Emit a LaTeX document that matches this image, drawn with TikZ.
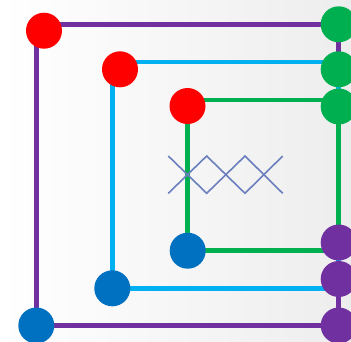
\documentclass[tikz,border=0pt]{standalone}
\usetikzlibrary{calc}
\definecolor{cpurple}{HTML}{7030A0}
\definecolor{ccyan}{HTML}{00B0F0}
\definecolor{cgreen}{HTML}{00B050}
\definecolor{cred}{HTML}{FF0000}
\definecolor{cblue}{HTML}{0070C0}
\definecolor{czig}{HTML}{6B7EBD}
\pgfdeclarelayer{back}
\pgfdeclarelayer{mid}
\pgfsetlayers{back,mid,main}
\begin{document}
\begin{tikzpicture}[x=1pt,y=-1pt,
  dot/.style={circle,minimum size=36pt,inner sep=0pt,fill=#1,draw=none},
  frameline/.style={line width=4.8pt,draw=#1,line join=miter}]
\useasboundingbox (0,0) rectangle (351,341);
\begin{pgfonlayer}{back}
\shade[left color=white,right color=black!7] (0,0) rectangle (351,341);
\end{pgfonlayer}
% circles
\node[dot=cred] (r1) at (44,30.7) {};
\node[dot=cred] (r2) at (120,69.3) {};
\node[dot=cred] (r3) at (187.5,106) {};
\node[dot=cgreen] (g1) at (338.7,24.3) {};
\node[dot=cgreen] (g2) at (338.7,69.3) {};
\node[dot=cgreen] (g3) at (338.7,106.5) {};
\node[dot=cpurple] (p3) at (338.7,242.5) {};
\node[dot=cpurple] (p2) at (338.7,279) {};
\node[dot=cpurple] (p1) at (338.7,325.5) {};
\node[dot=cblue] (b1) at (36.3,325.5) {};
\node[dot=cblue] (b2) at (112.3,288.3) {};
\node[dot=cblue] (b3) at (187.7,250.7) {};
\coordinate (d2) at (338.7,62);
\coordinate (d3) at (338.7,100);
% frames
\begin{pgfonlayer}{mid}
\draw[frameline=cpurple] (b1.center) rectangle (g1.center);
\draw[frameline=ccyan] (b2.center) rectangle (d2);
\draw[frameline=cgreen] (b3.center) rectangle (d3);
\end{pgfonlayer}
% zigzag crosses
\draw[czig,line width=1.6pt] (168.3,156) -- (206.7,193.3) -- (245,156) -- (282.7,193.3);
\draw[czig,line width=1.6pt] (168.3,193.3) -- (206.7,156) -- (245,193.3) -- (282.7,156);
\end{tikzpicture}
\end{document}
